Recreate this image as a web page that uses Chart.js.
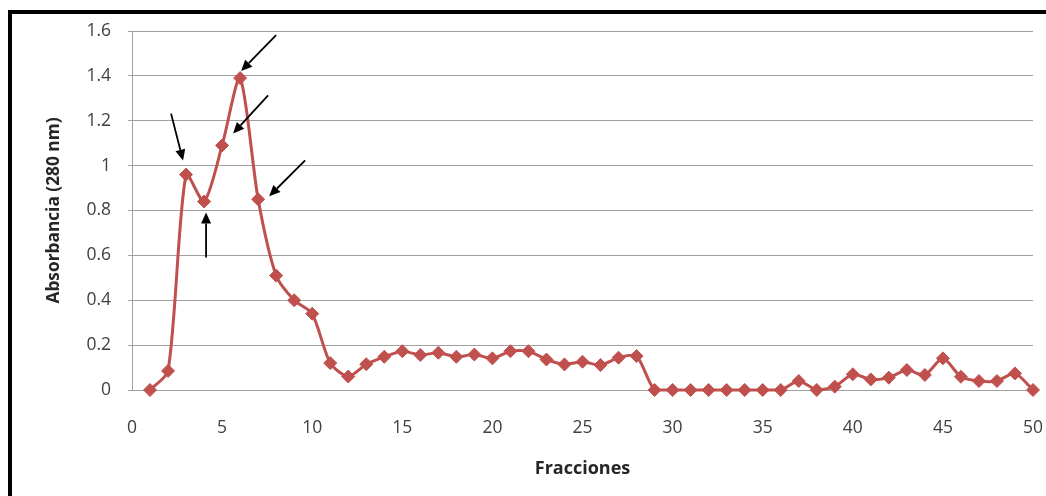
<!DOCTYPE html>
<html>
<head>
<meta charset="utf-8">
<script src="https://cdn.jsdelivr.net/npm/chart.js@4/dist/chart.umd.min.js"></script>
<style>
  html, body { margin: 0; padding: 0; background: #fff; }
  #wrap { position: relative; width: 1046px; height: 496px; overflow: hidden; }
  #frame {
    position: absolute; left: 8px; top: 10px; right: -10px; bottom: -10px;
    border-left: 4px solid #000; border-top: 4px solid #000;
    pointer-events: none;
  }
  canvas { position: absolute; left: 0; top: 0; }
</style>
</head>
<body>
<div id="wrap">
  <canvas id="c" width="1046" height="496"></canvas>
  <div id="frame"></div>
</div>
<script>
// Fraction numbers collected from the column
const fracciones = [
  1, 2, 3, 4, 5, 6, 7, 8, 9, 10,
  11, 12, 13, 14, 15, 16, 17, 18, 19, 20,
  21, 22, 23, 24, 25, 26, 27, 28, 29, 30,
  31, 32, 33, 34, 35, 36, 37, 38, 39, 40,
  41, 42, 43, 44, 45, 46, 47, 48, 49, 50
];

// Absorbance at 280 nm for each fraction
const absorbancia = [
  0.000, 0.085, 0.960, 0.840, 1.090, 1.390, 0.850, 0.510, 0.400, 0.340,
  0.120, 0.060, 0.115, 0.148, 0.173, 0.156, 0.166, 0.148, 0.158, 0.141,
  0.173, 0.173, 0.136, 0.114, 0.126, 0.111, 0.144, 0.151, 0.000, 0.000,
  0.000, 0.000, 0.000, 0.000, 0.000, 0.000, 0.040, 0.000, 0.015, 0.070,
  0.047, 0.055, 0.089, 0.067, 0.141, 0.059, 0.040, 0.040, 0.074, 0.000
];

// Axis tick labels
const xTicks = [0, 5, 10, 15, 20, 25, 30, 35, 40, 45, 50];
const yTicks = ['0', '0.2', '0.4', '0.6', '0.8', '1', '1.2', '1.4', '1.6'];

// Fractions flagged with an arrow
const marcadas = [3, 4, 5, 6, 7];

// Arrow geometry per flagged fraction: tail and tip offsets (px) from the marker
const flechas = {
  3: { tail: [-15, -61], tip: [-3, -14] },
  4: { tail: [2, 56],    tip: [2, 11] },
  5: { tail: [46, -50],  tip: [11, -12] },
  6: { tail: [36, -43],  tip: [1, -7] },
  7: { tail: [47, -39],  tip: [11, -3] }
};

const arrowPlugin = {
  id: 'arrows',
  afterDatasetsDraw(chart) {
    const ctx = chart.ctx;
    const meta = chart.getDatasetMeta(0);
    ctx.save();
    ctx.strokeStyle = '#000';
    ctx.fillStyle = '#000';
    ctx.lineWidth = 1.8;
    marcadas.forEach(f => {
      const i = fracciones.indexOf(f);
      const pt = meta.data[i];
      const g = flechas[f];
      const x0 = pt.x + g.tail[0], y0 = pt.y + g.tail[1];
      const x1 = pt.x + g.tip[0],  y1 = pt.y + g.tip[1];
      const ang = Math.atan2(y1 - y0, x1 - x0);
      const headLen = 11, headW = 5;
      const bx = x1 - headLen * Math.cos(ang), by = y1 - headLen * Math.sin(ang);
      ctx.beginPath();
      ctx.moveTo(x0, y0);
      ctx.lineTo(bx, by);
      ctx.stroke();
      ctx.beginPath();
      ctx.moveTo(x1, y1);
      ctx.lineTo(bx + headW * Math.sin(ang), by - headW * Math.cos(ang));
      ctx.lineTo(bx - headW * Math.sin(ang), by + headW * Math.cos(ang));
      ctx.closePath();
      ctx.fill();
    });
    ctx.restore();
  }
};

const red = '#C0504D';
const gridGrey = '#a0a0a0';
const tickFont = { family: '"Open Sans", sans-serif', size: 17.5 };
const xTitleFont = { family: '"Open Sans", sans-serif', size: 18, weight: 'bold' };
const yTitleFont = { family: '"Open Sans", sans-serif', size: 17.3, weight: 'bold' };

new Chart(document.getElementById('c'), {
  type: 'line',
  data: {
    datasets: [{
      data: fracciones.map((f, i) => ({ x: f, y: absorbancia[i] })),
      borderColor: red,
      backgroundColor: red,
      borderWidth: 3,
      tension: 0.25,
      pointStyle: 'rectRot',
      pointRadius: 6.5,
      pointBorderWidth: 1,
      pointBackgroundColor: red,
      pointBorderColor: red,
      clip: false
    }]
  },
  options: {
    responsive: false,
    animation: false,
    devicePixelRatio: 1,
    layout: { padding: { top: 31, right: 13, bottom: 0, left: 0 } },
    plugins: { legend: { display: false }, tooltip: { enabled: false } },
    scales: {
      x: {
        type: 'linear',
        min: 0, max: 50,
        afterBuildTicks(scale) { scale.ticks = xTicks.map(v => ({ value: v })); },
        afterFit(scale) {
          scale.height = 106;
          scale.paddingLeft = 0;
          scale.paddingRight = 0;
        },
        ticks: {
          font: tickFont, color: '#404040', padding: 28, maxRotation: 0,
          callback: v => String(v)
        },
        grid: { display: false, drawTicks: false },
        border: { display: true, color: gridGrey, width: 1 },
        title: {
          display: true, text: 'Fracciones', font: xTitleFont, color: '#262626',
          padding: { top: 0, bottom: 16 }
        }
      },
      y: {
        min: 0, max: 1.6,
        afterBuildTicks(scale) { scale.ticks = yTicks.map(t => ({ value: parseFloat(t) })); },
        afterFit(scale) {
          scale.width = 132;
          scale.paddingTop = 0;
          scale.paddingBottom = 0;
        },
        ticks: {
          font: tickFont, color: '#404040', padding: 17,
          callback: (v, i) => yTicks[i]
        },
        grid: { color: gridGrey, lineWidth: 1, tickLength: 4, drawTicks: true },
        border: { display: true, color: gridGrey, width: 1 },
        title: {
          display: true, text: 'Absorbancia (280 nm)', font: yTitleFont, color: '#262626',
          padding: { top: 44, bottom: 0 }
        }
      }
    }
  },
  plugins: [arrowPlugin]
});
</script>
</body>
</html>
